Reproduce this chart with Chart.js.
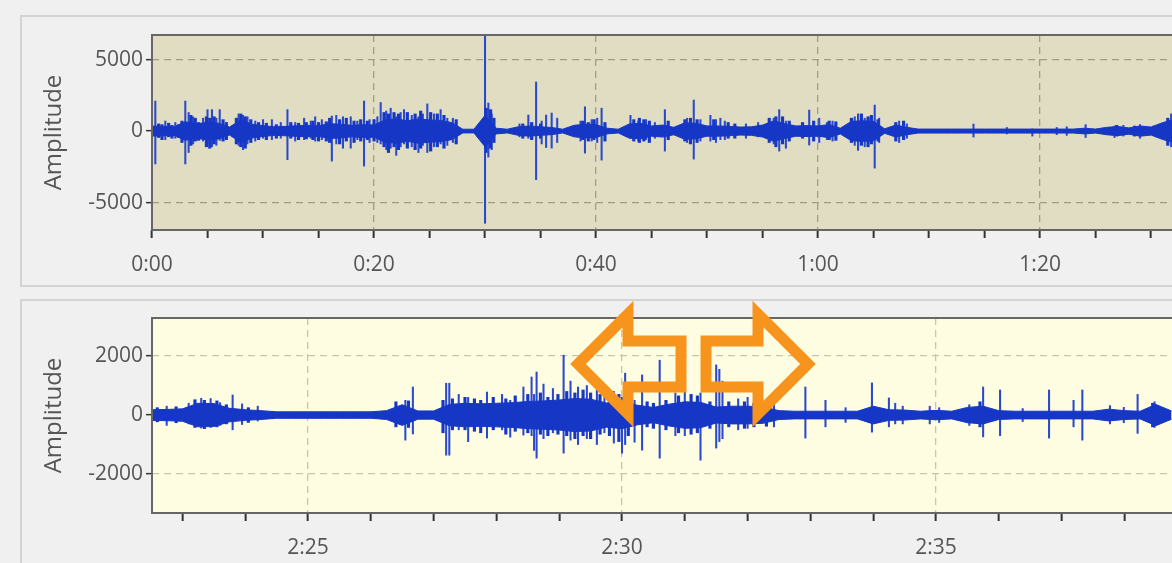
<!DOCTYPE html>
<html lang="en">
<head>
<meta charset="UTF-8">
<title>Amplitude waveform</title>
<script src="https://cdn.jsdelivr.net/npm/chart.js"></script>
<style>
    html, body { margin: 0; padding: 0; width: 1172px; height: 563px; overflow: hidden; background: #f0f0f0; position: relative; font-family: "Open Sans", sans-serif; }
    .panel { position: absolute; left: 20px; width: 1200px; border: 2px solid #d3d3d3; box-sizing: border-box; background: #f0f0f0; }
    #topPanel { top: 15px; height: 272px; }
    #bottomPanel { top: 299px; height: 300px; }
    canvas { position: absolute; }
    #topChart { left: 20px; top: 16px; }
    #bottomChart { left: 20px; top: 300px; }
    #arrows { position: absolute; left: 0; top: 0; pointer-events: none; }
</style>
</head>
<body>
<div class="panel" id="topPanel"></div>
<div class="panel" id="bottomPanel"></div>
<canvas id="topChart" width="1165" height="270"></canvas>
<canvas id="bottomChart" width="1165" height="263"></canvas>
<svg id="arrows" width="1172" height="563">
    <polygon points="578,364 628,314 628,341 681,341 681,387 628,387 628,414" fill="none" stroke="#f7941d" stroke-width="11" stroke-linejoin="miter"/>
    <polygon points="808,364 758,314 758,341 706,341 706,387 758,387 758,414" fill="none" stroke="#f7941d" stroke-width="11" stroke-linejoin="miter"/>
</svg>

<script>
// ---- top panel (whole recording, seconds) ----
const topCoreStart = 0;   // core envelope sampled every second
const topCoreStep = 1;
const topCoreAmp = [
    350, 330, 300, 650, 500, 620, 550, 280, 800, 480,
    380, 300, 330, 370, 400, 370, 520, 480, 400, 450,
    430, 780, 850, 720, 850, 780, 740, 600, 130, 130,
    1100, 200, 130, 300, 360, 300, 250, 130, 400, 480,
    450, 200, 130, 500, 540, 360, 420, 260, 580, 540,
    360, 360, 330, 280, 300, 420, 720, 520, 360, 380,
    360, 460, 200, 680, 720, 680, 160, 420, 260, 140,
    140, 140, 140, 140, 140, 140, 140, 140, 140, 140,
    140, 140, 140, 140, 200, 140, 260, 320, 220, 360,
    280, 580, 800
];
// isolated spikes
const topSpikeTime = [
    0.3, 1.2, 2.1, 3.0, 3.3, 3.7, 4.6, 5.0, 5.4, 5.8, 6.1, 7.8, 8.2, 8.6, 9.3, 10.0, 10.8, 11.6,
    12.2, 12.9, 13.7, 14.3, 14.7, 15.3, 16.2, 16.6, 17.2, 17.9, 18.5, 19.1, 19.6, 20.3, 20.6, 21.1,
    21.5, 22.0, 22.4, 22.7, 23.4, 24.0, 24.4, 24.8, 25.4, 26.0, 26.6, 27.1, 30.0, 30.3, 30.6, 33.1,
    33.9, 34.6, 35.1, 35.5, 36.0, 36.5, 38.6, 39.0, 39.6, 40.1, 40.5, 43.1, 43.8, 44.5, 45.3, 46.2,
    48.2, 48.8, 49.4, 50.3, 50.8, 51.2, 51.6, 53.5, 54.6, 56.0, 56.5, 57.1, 59.2, 60.1, 60.8, 61.3,
    63.3, 63.6, 64.2, 65.1, 65.5, 67.3, 68.0, 74.0, 77.0, 79.3, 81.5, 82.4, 84.1, 86.7, 87.5, 89.0,
    90.2, 91.8
];
const topSpikeHigh = [
    2100, 700, 600, 2100, 1300, 1000, 900, 1500, 1500, 900, 1500, 1200, 1100, 1000, 700, 800, 800, 600,
    1500, 600, 900, 700, 1000, 800, 1050, 1100, 1000, 1000, 700, 2100, 800, 1000, 2000, 1400,
    1600, 1000, 1300, 1500, 1100, 1000, 1200, 1900, 1200, 1500, 900, 900, 6800, 1960, 1200, 500,
    1120, 3430, 700, 1120, 1260, 900, 700, 1700, 800, 900, 1600, 1100, 700, 800, 600, 1500,
    900, 2170, 800, 1100, 800, 900, 700, 500, 600, 900, 1500, 700, 1470, 900, 600, 700,
    1000, 1200, 900, 1820, 900, 700, 500, 490, 250, 150, 250, 300, 450, 350, 400, 450,
    350, 1200
];
const topSpikeLow = [
    -2300, -600, -500, -2300, -1500, -900, -700, -900, -1100, -1000, -650, -1000, -1300, -900, -700, -500, -600, -500,
    -2000, -700, -600, -500, -700, -600, -2100, -900, -1200, -1200, -600, -2450, -800, -800, -900, -1300,
    -1200, -1700, -1100, -900, -1100, -1500, -1000, -1500, -1100, -900, -1000, -800, -6450, -1820, -1300, -400,
    -500, -3400, -900, -1150, -1190, -800, -700, -1540, -700, -800, -2030, -400, -700, -600, -500, -1400,
    -800, -1960, -700, -700, -800, -600, -600, -500, -400, -900, -1400, -1200, -980, -800, -600, -700,
    -1000, -1350, -1100, -2590, -800, -800, -500, -420, -200, -350, -250, -300, -450, -450, -350, -500,
    -300, -1100
];
// short dense strokes inside the bursts
const topGrainTime = [
    0.6, 0.9, 1.5, 1.8, 2.4, 2.7, 3.5, 3.9, 4.2, 4.9, 5.2, 5.6, 6.4, 6.7, 7.3, 7.6, 8.0, 8.4, 8.9,
    9.6, 10.3, 11.2, 12.5, 13.2, 13.9, 14.5, 15.0, 15.7, 16.0, 16.9, 17.5, 18.2, 18.8, 19.4, 20.0,
    20.9, 21.3, 21.8, 22.2, 23.0, 23.7, 24.2, 25.1, 25.7, 26.3, 27.4, 30.1, 30.5, 30.8, 33.4, 34.2,
    35.0, 38.8, 39.3, 39.8, 40.8, 43.4, 43.9, 44.3, 44.8, 46.5, 48.0, 48.5, 49.1, 50.6, 51.9, 52.5,
    55.6, 56.2, 56.8, 57.4, 58.6, 59.6, 61.0, 61.6, 63.0, 63.9, 64.5, 64.8, 65.4, 67.0, 67.7, 86.9,
    88.5, 90.5, 91.5, 92.2
];
const topGrainHigh = [
    500, 450, 550, 400, 450, 700, 1100, 900, 600, 1000, 900, 1000, 800, 600, 400, 900, 1200, 1000, 800,
    600, 550, 450, 600, 550, 600, 700, 600, 650, 900, 800, 900, 700, 800, 700, 800,
    1300, 1200, 1300, 1200, 1300, 1200, 1400, 1300, 1200, 1100, 800, 1600, 1500, 900, 500, 600,
    500, 700, 600, 800, 600, 800, 900, 800, 700, 700, 800, 900, 800, 800, 600, 500,
    900, 1000, 1000, 700, 600, 700, 700, 650, 900, 1200, 1000, 1100, 800, 600, 700, 400,
    350, 400, 900, 1100
];
const topGrainLow = [
    -450, -600, -400, -500, -450, -800, -1000, -700, -650, -1100, -1200, -900, -700, -600, -400, -900, -1100, -1200, -800,
    -600, -600, -500, -500, -600, -550, -600, -700, -700, -800, -900, -700, -800, -700, -600, -700,
    -1100, -1500, -1100, -1300, -1200, -1300, -1200, -1400, -1100, -1200, -900, -1500, -1200, -800, -500, -600,
    -500, -600, -700, -600, -700, -700, -800, -700, -800, -600, -700, -900, -800, -600, -500, -500,
    -800, -1100, -900, -700, -500, -700, -600, -650, -800, -1000, -1100, -900, -700, -700, -600, -350,
    -350, -400, -1000, -1100
];
const topXTicks = [0, 5, 10, 15, 20, 25, 30, 35, 40, 45, 50, 55, 60, 65, 70, 75, 80, 85, 90];
const topXLabeled = [0, 20, 40, 60, 80];
const topYTicks = [-5000, 0, 5000];

// ---- bottom panel (zoomed section, seconds) ----
const bottomCoreStart = 142.5;  // core envelope sampled every quarter second
const bottomCoreStep = 0.25;
const bottomCoreAmp = [
    180, 190, 210, 400, 390, 230, 180, 150, 110, 110,
    110, 110, 110, 110, 110, 150, 350, 140, 140, 360,
    400, 380, 400, 420, 460, 480, 510, 560, 540, 410,
    460, 330, 260, 370, 450, 430, 270, 300, 300, 280,
    150, 130, 130, 130, 130, 130, 300, 180, 170, 130,
    160, 130, 260, 300, 150, 130, 130, 130, 130, 130,
    130, 200, 150, 130, 360, 140
];
const bottomSpikeTime = [
    142.75, 143.1, 143.3, 143.45, 143.6, 143.8, 143.95, 144.2, 146.55, 146.67, 147.2, 147.25, 147.4,
    147.55, 147.85, 148.09, 148.22, 148.43, 148.56, 148.6, 148.64, 148.75, 148.9, 149.07, 149.18,
    149.3, 149.44, 149.6, 149.72, 149.87, 150.0, 150.05, 150.2, 150.32, 150.6, 150.85, 151.0,
    151.25, 151.5, 151.55, 151.6, 151.85, 152.0, 152.42, 152.92, 153.24, 153.56, 153.98, 154.25,
    154.35, 154.47, 154.9, 155.05, 155.53, 155.75, 156.02, 156.38, 156.8, 157.19, 157.33, 157.77,
    157.99, 158.21, 158.48
];
const bottomSpikeHigh = [
    300, 400, 570, 560, 420, 680, 380, 300, 500, 950, 1080, 1080, 700,
    600, 780, 700, 500, 950, 1290, 700, 1460, 1050, 900, 2030, 1150,
    950, 1000, 850, 750, 800, 600, 1420, 500, 1360, 1860, 750, 800,
    750, 1700, 1550, 1150, 550, 600, 550, 950, 500, 250, 1090, 580,
    400, 300, 300, 250, 350, 950, 850, 220, 850, 500, 850, 320,
    260, 700, 450
];
const bottomSpikeLow = [
    -350, -300, -440, -420, -350, -500, -320, -200, -850, -640, -1360, -1360, -500,
    -900, -780, -500, -750, -680, -700, -1200, -1460, -800, -600, -1290, -850,
    -1000, -800, -1000, -600, -950, -1290, -1000, -920, -1190, -1460, -700, -700,
    -1530, -1120, -900, -800, -500, -450, -400, -780, -400, -250, -580, -400,
    -300, -300, -300, -250, -350, -740, -700, -220, -780, -400, -850, -300,
    -260, -620, -420
];
const bottomGrainTime = [
    142.6, 142.9, 143.2, 143.35, 143.55, 143.7, 144.05, 146.4, 146.6, 147.15, 147.3, 147.5, 147.65,
    147.75, 147.95, 148.15, 148.3, 148.5, 148.7, 148.82, 148.98, 149.12, 149.25, 149.38, 149.5,
    149.65, 149.8, 149.95, 150.1, 150.4, 150.5, 150.7, 150.9, 151.1, 151.2, 151.4, 151.7, 151.95,
    152.1, 152.3, 155.7, 158.45
];
const bottomGrainHigh = [
    250, 280, 520, 500, 480, 350, 250, 450, 480, 500, 550, 600, 550,
    500, 600, 550, 650, 700, 750, 600, 700, 800, 750, 850, 750,
    700, 600, 700, 600, 450, 400, 500, 650, 700, 650, 450, 450, 450,
    400, 420, 450, 400
];
const bottomGrainLow = [
    -230, -260, -420, -460, -400, -300, -250, -400, -420, -600, -500, -500, -550,
    -600, -500, -650, -550, -600, -650, -700, -650, -700, -800, -700, -800,
    -650, -700, -900, -700, -400, -450, -500, -600, -650, -600, -450, -400, -450,
    -400, -380, -400, -400
];
const bottomXTicks = [143, 144, 145, 146, 147, 148, 149, 150, 151, 152, 153, 154, 155, 156, 157, 158];
const bottomXLabeled = [145, 150, 155];
const bottomYTicks = [-2000, 0, 2000];

const WAVE = '#1637c6';
const SPIKE = '#2a49cc';
const FONT = '"Open Sans", sans-serif';

const fmtTime = v => Math.floor(v / 60) + ':' + String(Math.round(v % 60)).padStart(2, '0');

function plotFrame(bg) {
    return {
        id: 'plotFrame',
        beforeDraw(chart) {
            const { ctx, chartArea: a } = chart;
            ctx.save();
            ctx.fillStyle = bg;
            ctx.fillRect(a.left, a.top, a.right - a.left, a.bottom - a.top);
            ctx.restore();
        },
        afterDraw(chart) {
            const { ctx, chartArea: a } = chart;
            ctx.save();
            ctx.strokeStyle = '#666';
            ctx.lineWidth = 2;
            ctx.strokeRect(a.left, a.top, a.right - a.left, a.bottom - a.top);
            ctx.restore();
        }
    };
}

function buildChart(id, p) {
    const upper = p.core.map((a, i) => ({ x: p.coreStart + i * p.coreStep, y: a }));
    const lower = p.core.map((a, i) => ({ x: p.coreStart + i * p.coreStep, y: -a }));
    const spikes = p.spikeTime.map((t, i) => ({ x: t, y: [p.spikeLow[i], p.spikeHigh[i]] }));
    const grains = p.grainTime.map((t, i) => ({ x: t, y: [p.grainLow[i], p.grainHigh[i]] }));

    return new Chart(document.getElementById(id), {
        type: 'bar',
        data: {
            datasets: [
                { type: 'line', data: upper, borderColor: WAVE, backgroundColor: WAVE, borderWidth: 1, pointRadius: 0, tension: 0, fill: '+1' },
                { type: 'line', data: lower, borderColor: WAVE, borderWidth: 1, pointRadius: 0, tension: 0, fill: false },
                { data: grains, backgroundColor: WAVE, barThickness: 2.5, grouped: false },
                { data: spikes, backgroundColor: SPIKE, barThickness: 1.4, grouped: false }
            ]
        },
        options: {
            responsive: false,
            animation: false,
            layout: { padding: { left: 0, top: p.padTop, right: 5, bottom: 0 } },
            plugins: { legend: { display: false }, tooltip: { enabled: false } },
            scales: {
                x: {
                    type: 'linear',
                    min: p.xMin,
                    max: p.xMax,
                    offset: false,
                    afterBuildTicks: s => { s.ticks = p.xTicks.map(v => ({ value: v })); },
                    afterFit: s => { s.height = p.xAxisHeight; },
                    ticks: {
                        autoSkip: false, maxRotation: 0, padding: 14, color: '#555',
                        font: { family: FONT, size: 21 },
                        callback: v => p.xLabeled.includes(v) ? fmtTime(v) : ''
                    },
                    grid: {
                        offset: false,
                        color: c => (c.tick && p.xLabeled.includes(c.tick.value)) ? p.gridColor : 'rgba(0,0,0,0)',
                        lineWidth: 1.3,
                        tickLength: 8, tickColor: '#333', tickWidth: 2
                    },
                    border: { display: false, dash: [7, 5] }
                },
                y: {
                    min: p.yMin,
                    max: p.yMax,
                    afterBuildTicks: s => { s.ticks = p.yTicks.map(v => ({ value: v })); },
                    afterFit: s => { s.width = 132; },
                    ticks: { padding: 3, color: '#555', font: { family: FONT, size: 21 }, callback: v => String(v) },
                    grid: { color: p.gridColor, lineWidth: 1.3, tickLength: 6, tickColor: '#333', tickWidth: 1.5 },
                    border: { display: false, dash: [7, 5] },
                    title: {
                        display: true, text: 'Amplitude', color: '#555',
                        font: { family: FONT, size: 24 }, padding: { top: 20, bottom: 0 }
                    }
                }
            }
        },
        plugins: [plotFrame(p.bg)]
    });
}

buildChart('topChart', {
    core: topCoreAmp, coreStart: topCoreStart, coreStep: topCoreStep,
    spikeTime: topSpikeTime, spikeHigh: topSpikeHigh, spikeLow: topSpikeLow,
    grainTime: topGrainTime, grainHigh: topGrainHigh, grainLow: topGrainLow,
    xMin: 0, xMax: 92.6, xTicks: topXTicks, xLabeled: topXLabeled,
    yMin: -6920, yMax: 6720, yTicks: topYTicks,
    padTop: 19, xAxisHeight: 56,
    bg: '#e1ddc2', gridColor: '#a29e86'
});

buildChart('bottomChart', {
    core: bottomCoreAmp, coreStart: bottomCoreStart, coreStep: bottomCoreStep,
    spikeTime: bottomSpikeTime, spikeHigh: bottomSpikeHigh, spikeLow: bottomSpikeLow,
    grainTime: bottomGrainTime, grainHigh: bottomGrainHigh, grainLow: bottomGrainLow,
    xMin: 142.516, xMax: 158.885, xTicks: bottomXTicks, xLabeled: bottomXLabeled,
    yMin: -3320, yMax: 3290, yTicks: bottomYTicks,
    padTop: 18, xAxisHeight: 50,
    bg: '#fffde1', gridColor: '#c9c5ad'
});
</script>
</body>
</html>
